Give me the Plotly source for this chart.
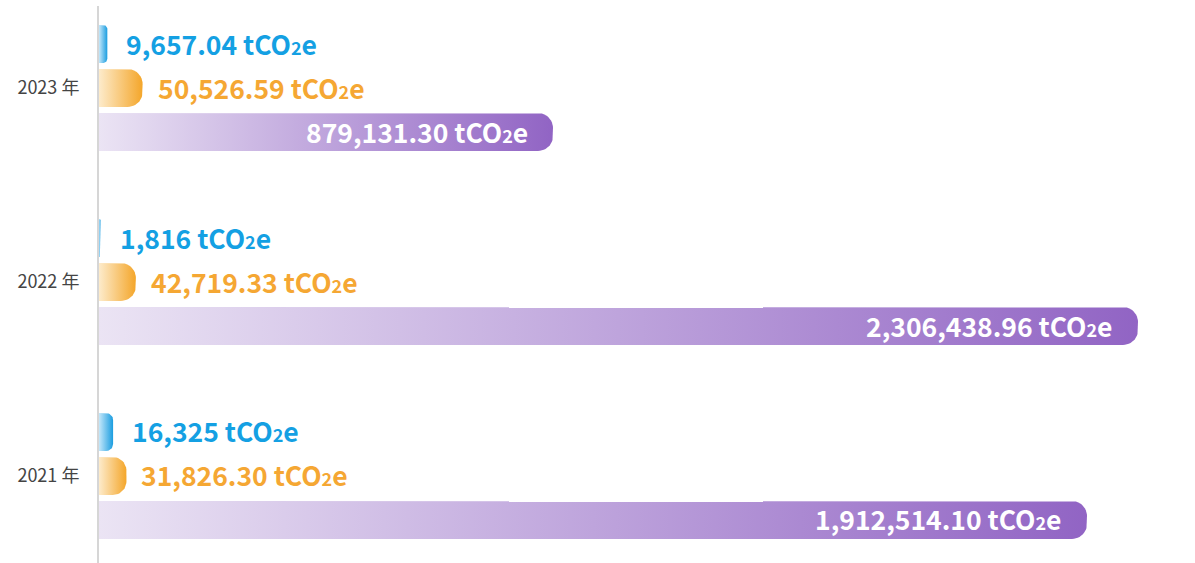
import math
import plotly.graph_objects as go

# ---------------- data ----------------
years = ["2023 年", "2022 年", "2021 年"]
scope1 = [9657.04, 1816, 16325]                 # blue
scope2 = [50526.59, 42719.33, 31826.30]         # orange
scope3 = [879131.30, 2306438.96, 1912514.10]    # purple (label values)
# drawn lengths of the purple bars (not to scale in the original)
scope3_drawn = [1007800, 2306438.96, 2193200]
scope1_labels = ["9,657.04", "1,816", "16,325"]
scope2_labels = ["50,526.59", "42,719.33", "31,826.30"]
scope3_labels = ["879,131.30", "2,306,438.96", "1,912,514.10"]

# ---------------- layout constants ----------------
W, H = 1195, 563
ML, MR, MT, MB = 99, 0, 6, 0
PW, PH = W - ML - MR, H - MT - MB
X1_MAX = 2.433e6        # main axis (purple)
X2_MAX = 1.27e6         # secondary axis (blue / orange)
Y_TOP, Y_BOT = -0.4227, 2.4485
sx1 = PW / X1_MAX
sx2 = PW / X2_MAX
sy = PH / (Y_BOT - Y_TOP)
OFF = 44 / sy
HALF = 19 / sy
UNIT = 'tCO<span style="font-size:18px">2</span>e'
FONT = "Noto Sans CJK SC"

BLUE = ["#c4e7fa", "#1a9de0"]
ORANGE = ["#fdebcb", "#f4a62a"]
PURPLE = ["#ebe4f4", "#9164c4"]


def bar_shape(v, yc, sx, r_px):
    rx = r_px / sx
    ry = r_px / sy
    xs, ys = [0, v - rx], [yc - HALF, yc - HALF]
    n = 12
    cx, cy = v - rx, yc - HALF + ry
    for i in range(n + 1):
        t = (math.pi / 2) * i / n
        xs.append(cx + rx * math.sin(t)); ys.append(cy - ry * math.cos(t))
    cx, cy = v - rx, yc + HALF - ry
    for i in range(n + 1):
        t = (math.pi / 2) * i / n
        xs.append(cx + rx * math.cos(t)); ys.append(cy + ry * math.sin(t))
    xs += [0, 0]; ys += [yc + HALF, yc - HALF]
    return xs, ys


fig = go.Figure()
annotations = []

for i in range(len(years)):
    series = [
        (scope1[i], -OFF, "x2", sx2, BLUE, scope1_labels[i], "#14a0e3", 17),
        (scope2[i], 0.0, "x2", sx2, ORANGE, scope2_labels[i], "#f5a733", 13),
        (scope3_drawn[i], OFF, "x", sx1, PURPLE, scope3_labels[i], "white", -23),
    ]
    for v, off, xa, sx, cols, lab, tcol, shift in series:
        yc = i + off
        wpx = v * sx
        r = min(15, wpx / 2)
        xs, ys = bar_shape(v, yc, sx, r)
        fig.add_trace(go.Scatter(
            x=xs, y=ys, xaxis=xa, mode="lines", fill="toself",
            line=dict(width=0, color="rgba(0,0,0,0)"),
            fillgradient=dict(type="horizontal",
                              colorscale=[[0, cols[0]], [1, cols[1]]]),
            hoverinfo="skip", showlegend=False,
        ))
        inside = xa == "x"
        annotations.append(dict(
            x=v, y=yc, xref=xa, yref="y",
            text=f"<b>{lab} {UNIT}</b>", showarrow=False,
            xanchor="right" if inside else "left",
            xshift=shift, yshift=1, yanchor="middle",
            font=dict(family=FONT, size=26.5, color=tcol),
        ))

fig.update_layout(
    width=W, height=H,
    margin=dict(l=ML, r=MR, t=MT, b=MB),
    paper_bgcolor="white", plot_bgcolor="white",
    annotations=annotations,
    xaxis=dict(range=[0, X1_MAX], visible=False, showgrid=False, zeroline=False),
    xaxis2=dict(range=[0, X2_MAX], overlaying="x", visible=False,
                showgrid=False, zeroline=False),
    yaxis=dict(range=[Y_BOT, Y_TOP], tickvals=[0, 1, 2], ticktext=years,
               showgrid=False, zeroline=False, showline=True,
               linecolor="#d6d6d6", linewidth=2, ticks="",
               ticklabelstandoff=14,
               tickfont=dict(family=FONT, size=18, color="#444444")),
)

fig.write_html("out.html")
